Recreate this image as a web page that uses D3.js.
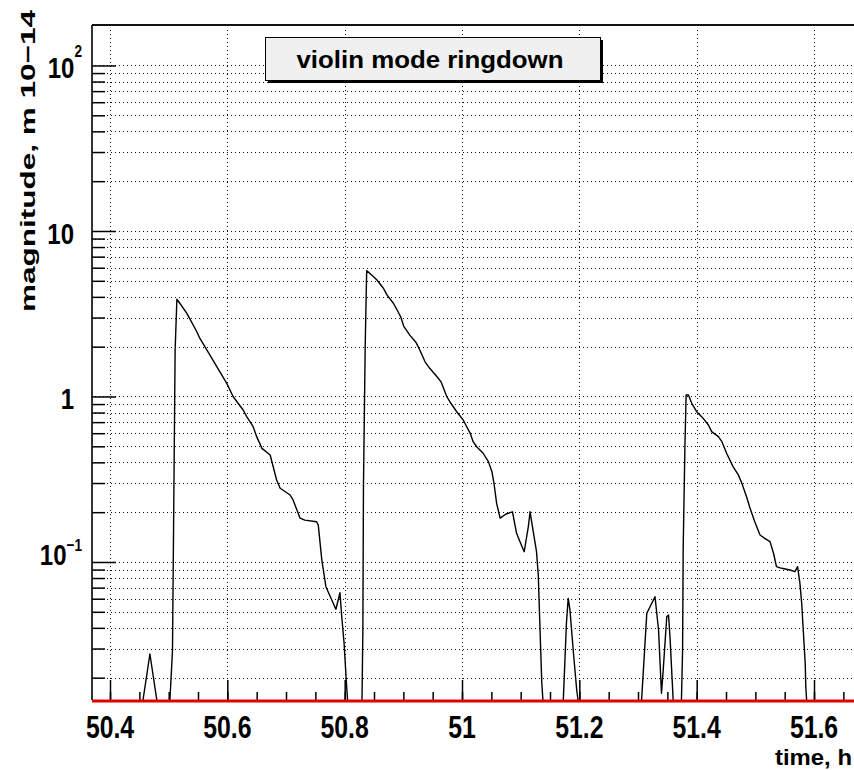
<!DOCTYPE html>
<html><head><meta charset="utf-8">
<script src="https://cdn.jsdelivr.net/npm/d3@7"></script>
<style>body{margin:0;background:#fff}svg{display:block}</style>
</head><body><svg id="c" width="854" height="770"></svg>
<script>
const chartTitle = "violin mode ringdown";
const xTitle = "time, h";
const yTitle = "magnitude, m 10\u221214";
const xTickValues = [50.4, 50.6, 50.8, 51.0, 51.2, 51.4, 51.6];
const xTickLabels = ["50.4", "50.6", "50.8", "51", "51.2", "51.4", "51.6"];
const yTickValues = [0.1, 1, 10, 100];
const yTickBases = ["10", "1", "10", "10"];
const yTickExps = ["\u22121", "", "", "2"];
const xDomain = [50.3693, 51.6818];
const yDomain = [0.014659, 175.66];

const times = [
  50.456, 50.468, 50.480,
  50.502, 50.5065, 50.511, 50.514, 50.519, 50.531, 50.548, 50.553, 50.565, 50.599, 50.610, 50.627, 50.633, 50.644, 50.650, 50.659, 50.673, 50.684, 50.690, 50.707, 50.712, 50.724, 50.732, 50.752, 50.755, 50.761, 50.768, 50.778, 50.785, 50.792, 50.795, 50.799, 50.803, 50.805,
  50.8295, 50.831, 50.832, 50.835, 50.8375, 50.846, 50.855, 50.866, 50.872, 50.883, 50.891, 50.8955, 50.901, 50.911, 50.922, 50.928, 50.937, 50.945, 50.957, 50.964, 50.974, 50.981, 50.991, 51.002, 51.014, 51.019, 51.025, 51.036, 51.045, 51.051, 51.0545, 51.059, 51.065, 51.075, 51.086, 51.093, 51.099, 51.106, 51.113, 51.116, 51.1215, 51.127, 51.130, 51.133, 51.136, 51.138,
  51.1726, 51.178, 51.181, 51.184, 51.190, 51.1955, 51.198,
  51.306, 51.315, 51.329, 51.335, 51.340, 51.343, 51.349, 51.352, 51.3545, 51.360,
  51.374, 51.376, 51.377, 51.380, 51.382, 51.386, 51.3915, 51.400, 51.411, 51.420, 51.4255, 51.437, 51.443, 51.451, 51.462, 51.471, 51.477, 51.485, 51.491, 51.499, 51.508, 51.516, 51.525, 51.531, 51.536, 51.545, 51.559, 51.5675, 51.572, 51.576, 51.579, 51.582, 51.585, 51.586, 51.5875
];
const magnitudes = [
  0, 0.0278, 0,
  0, 0.029, 1.91, 3.87, 3.66, 3.18, 2.46, 2.25, 1.91, 1.20, 0.997, 0.829, 0.755, 0.657, 0.572, 0.486, 0.443, 0.313, 0.279, 0.254, 0.237, 0.184, 0.179, 0.175, 0.167, 0.103, 0.0709, 0.0589, 0.0518, 0.0652, 0.0467, 0.0323, 0.0185, 0,
  0, 0.0388, 0.284, 2.05, 5.76, 5.42, 5.06, 4.51, 4.11, 3.66, 3.25, 3.03, 2.64, 2.35, 2.11, 1.91, 1.62, 1.48, 1.32, 1.23, 1.00, 0.910, 0.809, 0.721, 0.599, 0.533, 0.497, 0.454, 0.404, 0.351, 0.299, 0.226, 0.184, 0.195, 0.201, 0.149, 0.132, 0.1154, 0.163, 0.201, 0.152, 0.1154, 0.0834, 0.0388, 0.0186, 0,
  0, 0.0426, 0.0603, 0.0513, 0.0281, 0.01685, 0,
  0, 0.049, 0.0617, 0.0388, 0.0161, 0.0223, 0.0467, 0.0478, 0.0354, 0,
  0, 0.0294, 0.121, 0.509, 1.02, 1.02, 0.910, 0.809, 0.738, 0.673, 0.613, 0.572, 0.533, 0.454, 0.377, 0.336, 0.299, 0.248, 0.211, 0.175, 0.1456, 0.139, 0.1327, 0.1129, 0.0937, 0.0916, 0.0895, 0.0874, 0.0937, 0.0743, 0.0563, 0.0371, 0.0244, 0.01764, 0
];

const svg = d3.select("#c");
const L = 92, T = 25, B = 700, R = 862;
const x = d3.scaleLinear().domain(xDomain).range([L, R]);
const y = d3.scaleLog().domain(yDomain).range([B, T]);
const font = "'Liberation Sans', Arial, Helvetica, sans-serif";

svg.append("rect").attr("width", 854).attr("height", 770).attr("fill", "#fff");

// grid
const yAll = y.ticks(40).filter(v => v >= yDomain[0] && v <= yDomain[1]);
const grid = svg.append("g").attr("stroke", "#111").attr("stroke-width", 1)
  .attr("stroke-dasharray", "1.2,2.8").attr("shape-rendering", "crispEdges");
grid.selectAll("line.h").data(yAll).join("line").attr("class", "h")
  .attr("x1", L + 3).attr("x2", 854)
  .attr("y1", d => Math.round(y(d)) + 0.5).attr("y2", d => Math.round(y(d)) + 0.5);
grid.selectAll("line.v").data(xTickValues).join("line").attr("class", "v")
  .attr("x1", d => Math.round(x(d)) + 0.5).attr("x2", d => Math.round(x(d)) + 0.5)
  .attr("y1", T + 5).attr("y2", B);

// axes ticks (inward, ROOT style)
const xMinor = d3.range(Math.ceil(xDomain[0] / 0.05), Math.floor(xDomain[1] / 0.05) + 1).map(k => +(k * 0.05).toFixed(2));
const axB1 = d3.axisBottom(x).tickValues(xMinor).tickSize(-8).tickFormat("");
const axB2 = d3.axisBottom(x).tickValues(xTickValues).tickSize(-20).tickFormat("");
const gb1 = svg.append("g").attr("transform", `translate(0,${B})`).call(axB1);
const gb2 = svg.append("g").attr("transform", `translate(0,${B})`).call(axB2);
const yMinor = yAll.filter(v => Math.abs(Math.log10(v) - Math.round(Math.log10(v))) > 1e-6);
const axL1 = d3.axisLeft(y).tickValues(yMinor).tickSize(-13).tickFormat("");
const axL2 = d3.axisLeft(y).tickValues(yTickValues).tickSize(-24).tickFormat("");
const gl1 = svg.append("g").attr("transform", `translate(${L},0)`).call(axL1);
const gl2 = svg.append("g").attr("transform", `translate(${L},0)`).call(axL2);
[gb1, gb2, gl1, gl2].forEach(g => {
  g.select(".domain").remove();
  g.selectAll(".tick line").attr("stroke", "#000").attr("stroke-width", 1.5);
});

// frame
svg.append("line").attr("x1", L).attr("x2", L).attr("y1", T).attr("y2", B)
  .attr("stroke", "#000").attr("stroke-width", 1.6);
svg.append("line").attr("x1", L).attr("x2", 854).attr("y1", T).attr("y2", T)
  .attr("stroke", "#111").attr("stroke-width", 2);

// clip + curve
svg.append("clipPath").attr("id", "clip").append("rect")
  .attr("x", L).attr("y", T).attr("width", R - L).attr("height", B - T);
const pts = times.map((t, i) => [t, magnitudes[i]]);
const line = d3.line()
  .x(d => x(d[0]))
  .y(d => d[1] > 0 ? y(d[1]) : B + 1);
svg.append("path").datum(pts).attr("clip-path", "url(#clip)")
  .attr("d", line).attr("fill", "none").attr("stroke", "#000").attr("stroke-width", 1.4)
  .attr("stroke-linejoin", "round");

// red baseline
svg.append("line").attr("x1", L).attr("x2", 854).attr("y1", B + 1).attr("y2", B + 1)
  .attr("stroke", "#e00000").attr("stroke-width", 3);

// x tick labels
svg.append("g").selectAll("text").data(xTickValues).join("text")
  .attr("transform", d => `translate(${x(d)},738) scale(0.8,1)`)
  .attr("text-anchor", "middle").attr("font-family", font).attr("font-weight", "bold")
  .attr("font-size", 31).attr("fill", "#000")
  .text((d, i) => xTickLabels[i]);

// y tick labels
const yl = svg.append("g").selectAll("text").data(yTickValues).join("text")
  .attr("transform", (d, i) => {
    const hasExp = yTickExps[i] !== "";
    const tx = hasExp ? 82 : 74;
    const ty = y(d) + (yTickExps[i] === "\u22121" ? 3 : 13);
    return `translate(${tx},${ty}) scale(0.8,1)`;
  })
  .attr("text-anchor", "end").attr("font-family", font).attr("font-weight", "bold")
  .attr("font-size", 30).attr("fill", "#000");
yl.append("tspan").text((d, i) => yTickBases[i]);
yl.append("tspan").attr("font-size", 17)
  .attr("dy", (d, i) => yTickExps[i] === "\u22121" ? -14 : -22)
  .text((d, i) => yTickExps[i]);

// axis titles
svg.append("text").attr("x", 852).attr("y", 765).attr("text-anchor", "end")
  .attr("font-family", font).attr("font-weight", "bold").attr("font-size", 22)
  .attr("textLength", 77).attr("lengthAdjust", "spacingAndGlyphs").text(xTitle);
svg.append("text").attr("transform", "translate(35,161) rotate(-90)").attr("text-anchor", "middle")
  .attr("font-family", font).attr("font-weight", "bold").attr("font-size", 21)
  .attr("textLength", 302).attr("lengthAdjust", "spacingAndGlyphs").text(yTitle);

// title box
svg.append("rect").attr("x", 268).attr("y", 40).attr("width", 335).attr("height", 43).attr("fill", "#000");
svg.append("rect").attr("x", 265.5).attr("y", 37.5).attr("width", 335).attr("height", 43)
  .attr("fill", "#f0f0f0").attr("stroke", "#000").attr("stroke-width", 1);
svg.append("text").attr("x", 430).attr("y", 68).attr("text-anchor", "middle")
  .attr("font-family", font).attr("font-weight", "bold").attr("font-size", 24)
  .attr("textLength", 267).attr("lengthAdjust", "spacingAndGlyphs").text(chartTitle);
</script></body></html>
